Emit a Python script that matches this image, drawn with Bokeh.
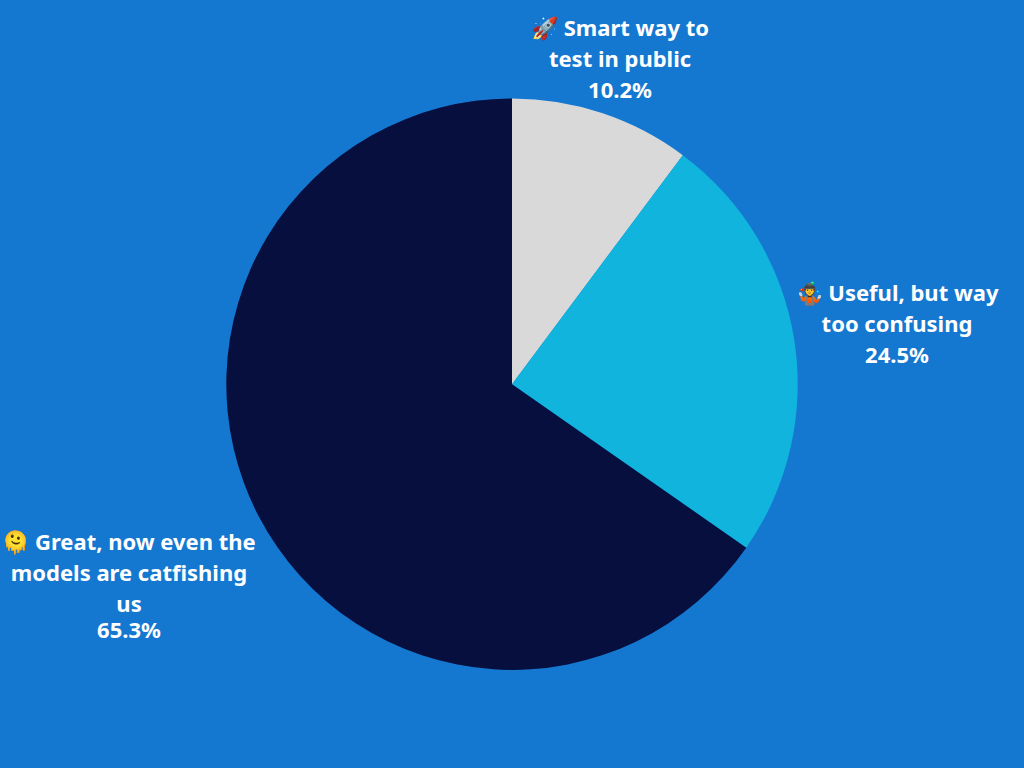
from bokeh.plotting import figure
from bokeh.models import ColumnDataSource, Range1d
from bokeh.embed import file_html
from bokeh.resources import INLINE
from bokeh.core.properties import value
from math import pi

categories = ["Smart way to test in public", "Useful, but way too confusing", "Great, now even the models are catfishing us"]
shares = [10.2, 24.5, 65.3]
colors = ["#D9D9D9", "#11B4DC", "#060F3E"]
label_lines = [
    ["\U0001F680 Smart way to", "test in public", "10.2%"],
    ["\U0001F939 Useful, but way", "too confusing", "24.5%"],
    ["\U0001FAE0 Great, now even the", "models are catfishing", "us", "65.3%"],
]
BG = "#1477D0"
W, H = 1024, 768

total = sum(shares)
starts, ends = [], []
acc = 0.0
for s in shares:
    starts.append(pi / 2 - acc / total * 2 * pi)
    acc += s
    ends.append(pi / 2 - acc / total * 2 * pi)

p = figure(width=W, height=H, output_backend="svg", toolbar_location=None,
           x_range=Range1d(0, W), y_range=Range1d(H, 0), min_border=0,
           background_fill_color=BG, border_fill_color=BG, outline_line_color=None)
p.axis.visible = False
p.grid.visible = False

src = ColumnDataSource(dict(x=[511.5] * 3, y=[383.7] * 3, s=starts, e=ends, c=colors))
p.wedge(x="x", y="y", radius=285.7, start_angle="s", end_angle="e", direction="clock",
        fill_color="c", line_color=None, source=src)

anchors = [(619.5, 26), (896.5, 291), (128.5, 540)]
xs, ys, ts = [], [], []
for (ax, ay), lines in zip(anchors, label_lines):
    for i, t in enumerate(lines):
        xs.append(ax); ys.append(ay + i * 31 if i < 3 else ay + 2 * 31 + 26); ts.append(t)
p.text(x=xs, y=ys, text=ts, text_color="white", text_align="center", text_baseline="middle",
       text_font=value("Noto Sans"), text_font_style="bold", text_font_size="22px")

style = "<style>html,body{margin:0;padding:0;overflow:hidden;background:%s}</style>" % BG
open("out.html", "w").write(file_html(p, INLINE).replace("</head>", style + "</head>"))
